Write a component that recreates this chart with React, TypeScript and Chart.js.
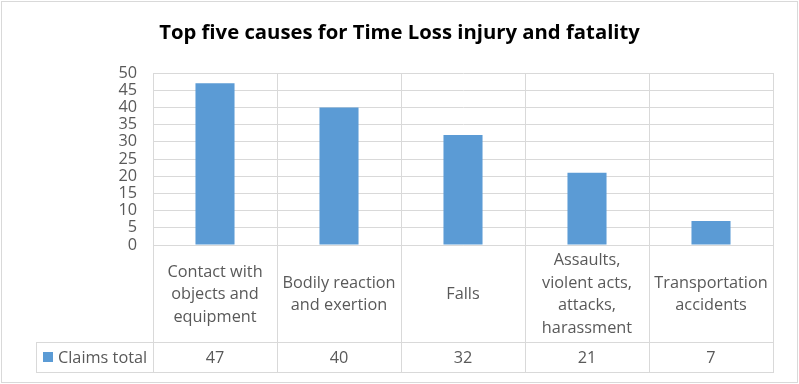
import React, { useEffect, useRef } from "react";
import { Chart, registerables } from "chart.js";

Chart.register(...registerables);

const chartTitle = "Top five causes for Time Loss injury and fatality";
const categories: string[][] = [
  ["Contact with", "objects and", "equipment"],
  ["Bodily reaction", "and exertion"],
  ["Falls"],
  ["Assaults,", "violent acts,", "attacks,", "harassment"],
  ["Transportation", "accidents"],
];
const seriesName = "Claims total";
const claimsTotal = [47, 40, 32, 21, 7];
const yMin = 0;
const yMax = 50;
const yStep = 5;

const FONT = "'Open Sans', Lato, sans-serif";
const GRID = "#d9d9d9";
const TEXT = "#595959";
const BAR = "#5b9bd5";
const BODY_SIZE = 16.3;

const tablePlugin = {
  id: "excelTable",
  afterDraw(chart: any) {
    const { ctx, chartArea, scales } = chart;
    const x = scales.x;
    const n = categories.length;
    const colW = (chartArea.right - chartArea.left) / n;
    const top = chartArea.bottom;
    const headerBottom = top + 97;
    const rowBottom = headerBottom + 30;
    const legendLeft = 36;
    const al = (v: number) => Math.round(v) + 0.5;

    ctx.save();
    // outer border
    ctx.strokeStyle = GRID;
    ctx.lineWidth = 1;
    ctx.strokeRect(1.5, 1.5, chart.width - 3, chart.height - 3);

    // title
    ctx.fillStyle = "#000000";
    ctx.font = `bold 20.3px ${FONT}`;
    ctx.textAlign = "center";
    ctx.textBaseline = "middle";
    ctx.fillText(chartTitle, chart.width / 2, 33);

    // table lines
    ctx.beginPath();
    for (let i = 0; i <= n; i++) {
      const px = al(x.getPixelForValue(0) - colW / 2 + i * colW);
      ctx.moveTo(px, top);
      ctx.lineTo(px, rowBottom);
    }
    ctx.moveTo(al(legendLeft), headerBottom);
    ctx.lineTo(al(legendLeft), rowBottom);
    ctx.moveTo(legendLeft, al(headerBottom));
    ctx.lineTo(chartArea.right + 1, al(headerBottom));
    ctx.moveTo(legendLeft, al(rowBottom));
    ctx.lineTo(chartArea.right + 1, al(rowBottom));
    ctx.stroke();

    // category labels
    ctx.fillStyle = TEXT;
    ctx.font = `${BODY_SIZE}px ${FONT}`;
    const lh = 22.5;
    categories.forEach((lines, i) => {
      const cx = x.getPixelForValue(i);
      const cy = (top + headerBottom) / 2 + 1;
      const start = cy - ((lines.length - 1) * lh) / 2;
      lines.forEach((ln, j) => ctx.fillText(ln, cx, start + j * lh));
    });

    // values row
    const rowMid = (headerBottom + rowBottom) / 2 + 1;
    claimsTotal.forEach((v, i) => {
      ctx.fillText(String(v), x.getPixelForValue(i), rowMid);
    });

    // legend
    ctx.fillStyle = BAR;
    ctx.fillRect(43, rowMid - 6, 10, 10);
    ctx.fillStyle = TEXT;
    ctx.textAlign = "left";
    ctx.fillText(seriesName, 58, rowMid);
    ctx.restore();
  },
};

export default function App() {
  const ref = useRef<HTMLCanvasElement | null>(null);
  useEffect(() => {
    document.body.style.margin = "0";
    const canvas = ref.current!;
    const chart = new Chart(canvas, {
      type: "bar",
      data: {
        labels: categories.map((c) => c.join(" ")),
        datasets: [
          {
            label: seriesName,
            data: claimsTotal,
            backgroundColor: BAR,
            borderWidth: 0,
            barPercentage: 0.315,
            categoryPercentage: 1,
          },
        ],
      },
      options: {
        responsive: false,
        animation: false,
        layout: { padding: { top: 73, left: 0, right: 26, bottom: 139 } },
        plugins: {
          legend: { display: false },
          title: { display: false },
          tooltip: { enabled: false },
        },
        scales: {
          x: {
            offset: true,
            grid: { color: GRID, offset: true, drawTicks: false },
            border: { color: GRID },
            ticks: { display: false },
            afterFit: (s: any) => {
              s.height = 0;
            },
          },
          y: {
            min: yMin,
            max: yMax,
            grid: { color: GRID, drawTicks: false },
            border: { color: GRID },
            ticks: {
              stepSize: yStep,
              autoSkip: false,
              padding: 16,
              color: TEXT,
              font: { family: FONT, size: BODY_SIZE, lineHeight: 1 },
            },
            afterFit: (s: any) => {
              s.width = 153;
            },
          },
        },
      },
      plugins: [tablePlugin],
    });
    return () => chart.destroy();
  }, []);
  return (
    <div style={{ position: "absolute", left: 0, top: 0, width: 799, height: 384 }}>
      <canvas ref={ref} width={799} height={384} style={{ display: "block" }} />
    </div>
  );
}
